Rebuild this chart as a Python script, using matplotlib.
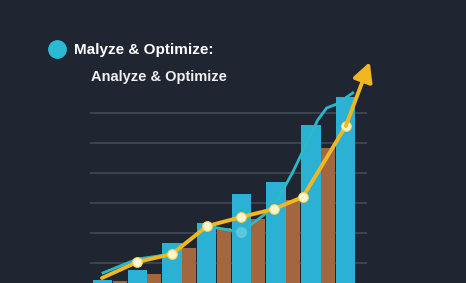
import numpy as np
import matplotlib
matplotlib.use('Agg')
import matplotlib.pyplot as plt
from matplotlib.lines import Line2D

# bar heights per group
blue_vals = [4.3, 7.7, 16.7, 23.3, 33.0, 37.0, 56.0, 65.3]
brown_vals = [4.0, 6.3, 15.0, 21.7, 24.7, 31.0, 48.3, 0.0]

# yellow trend line (arrow goes from last point to the tip)
yellow_x = [0.26, 1.27, 2.28, 3.29, 4.27, 5.22, 6.05, 7.29]
yellow_y = [5.0, 10.3, 13.0, 22.3, 25.3, 28.0, 32.0, 55.7]
arrow_tip = (7.98, 77.0)

# teal line
teal_x = [0.29, 1.27, 2.28, 3.29, 4.27, 5.19, 5.76, 6.25, 6.48, 6.74, 7.03, 7.49]
teal_y = [6.7, 11.3, 13.0, 22.3, 20.3, 28.3, 40.3, 52.0, 57.7, 61.7, 63.0, 66.7]

title_main = "Malyze & Optimize:"
title_sub = "Analyze & Optimize"

BG = '#1f2631'
BLUE = '#2ab1d3'
BROWN = '#a2673f'
YELLOW = '#f0b722'
TEAL = '#2bb8c9'
GRID = '#434a55'

W, H = 466, 283
fig = plt.figure(figsize=(W / 100, H / 100), dpi=100)
fig.patch.set_facecolor(BG)

# axes in pixel terms: x 90..367, y from 60px down to 293px (below image)
ax = fig.add_axes([90 / W, -10 / H, 277 / W, 233 / H])
ax.set_facecolor(BG)
for s in ax.spines.values():
    s.set_visible(False)
ax.set_xlim(-0.086, 7.9)
ax.set_ylim(0, 77.67)
ax.set_yticks([10, 20, 30, 40, 50, 60])
ax.set_xticks([])
ax.tick_params(left=False, labelleft=False)
ax.yaxis.grid(True, color=GRID, linewidth=1.2)
ax.set_axisbelow(True)

x = np.arange(len(blue_vals))
ax.bar(x, blue_vals, width=0.56, align='edge', color=BLUE, zorder=2)
ax.bar(x + 0.57, brown_vals, width=0.40, align='edge', color=BROWN, zorder=2)

ax.plot(teal_x, teal_y, color=TEAL, linewidth=2, zorder=3, clip_on=False)
ax.plot(teal_x[4], teal_y[4], 'o', color='#5cc6dc', markersize=7, zorder=3)

ax.plot(yellow_x, yellow_y, color=YELLOW, linewidth=2.8, zorder=4,
        solid_capstyle='round')
ax.plot(yellow_x[1:], yellow_y[1:], 'o', markersize=7,
        markerfacecolor='#fbf5cf', markeredgecolor='#f6d35a',
        markeredgewidth=0.8, zorder=5)
ax.annotate('', xy=arrow_tip, xytext=(yellow_x[-1], yellow_y[-1]),
            arrowprops=dict(arrowstyle='-|>,head_length=1.15,head_width=0.6',
                            color=YELLOW, lw=2.8, shrinkA=0, shrinkB=0),
            annotation_clip=False, zorder=6)

# header
fig.add_artist(Line2D([57 / W], [1 - 49 / H], marker='o', markersize=12.5,
                      color='#2bbad3', transform=fig.transFigure))
fig.text(74 / W, 1 - 50 / H, title_main, color='white', fontsize=11,
         fontweight='bold', va='center', ha='left', family='Liberation Sans')
fig.text(91 / W, 1 - 77 / H, title_sub, color='#f0f0f0', fontsize=10.5,
         fontweight='bold', va='center', ha='left', family='Liberation Sans')

fig.savefig('out.png', dpi=100, facecolor=BG)
